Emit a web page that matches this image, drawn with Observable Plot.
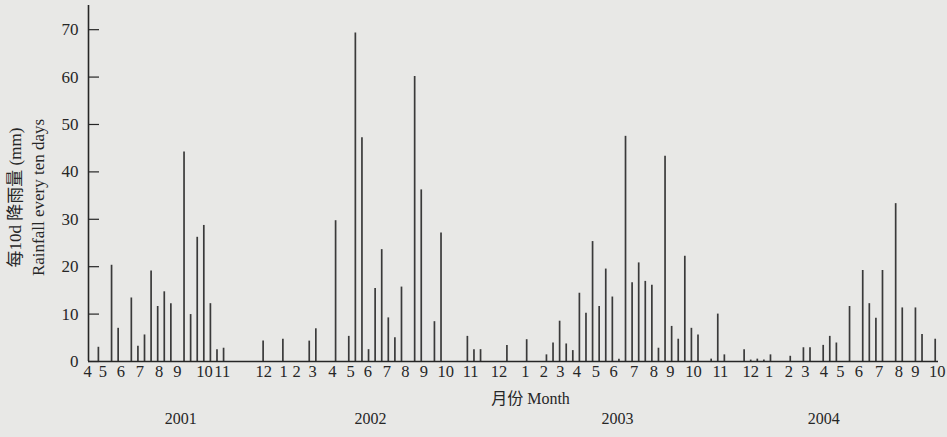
<!DOCTYPE html>
<html>
<head>
<meta charset="utf-8">
<script src="https://cdn.jsdelivr.net/npm/d3@7"></script>
<script src="https://cdn.jsdelivr.net/npm/@observablehq/plot@0.6"></script>
<style>
  html, body { margin: 0; padding: 0; background: #e8e8e6; }
  #chart svg { display: block; background: #e8e8e6; }
</style>
</head>
<body>
<div id="chart"></div>
<script>
// Dekad index (0 = first ten days of April 2001) and rainfall per ten days (mm)
const dekad = [1,3,4,6,7,8,9,10,11,12,14,15,16,17,18,19,20,26,29,33,34,37,39,40,41,42,43,44,45,46,47,49,50,52,53,57,58,59,63,66,69,70,71,72,73,74,75,76,77,78,79,80,81,82,83,84,85,86,87,88,89,90,91,92,94,95,96,99,100,101,102,103,106,108,109,111,112,113,115,117,118,119,120,122,123,125,126,128];
const rain = [3.0,20.3,7.0,13.4,3.2,5.6,19.1,11.6,14.7,12.2,44.2,9.9,26.2,28.7,12.2,2.5,2.8,4.3,4.7,4.3,6.9,29.7,5.3,69.3,47.2,2.5,15.4,23.6,9.2,5.0,15.7,60.1,36.2,8.4,27.1,5.3,2.5,2.5,3.4,4.6,1.4,3.9,8.5,3.7,2.3,14.4,10.2,25.3,11.6,19.5,13.6,0.5,47.5,16.6,20.8,16.9,16.1,2.8,43.3,7.4,4.7,22.2,7.0,5.6,0.5,10.0,1.4,2.5,0.3,0.5,0.3,1.4,1.1,2.9,2.9,3.4,5.3,3.9,11.6,19.2,12.2,9.1,19.2,33.3,11.3,11.3,5.7,4.7];

// Month tick labels and where they sit on the dekad axis
const monthLabels = ["4","5","6","7","8","9","10","11","12","1","2","3","4","5","6","7","8","9","10","11","12","1","2","3","4","5","6","7","8","9","10","11","12","1","2","3","4","5","6","7","8","9","10"];
const monthTicks = [-0.65,1.7,4.4,7.3,10.2,13.0,17.1,19.8,26.1,29.1,31.1,33.5,36.5,39.3,41.9,44.8,47.6,50.4,53.7,57.5,61.8,65.8,68.6,71.1,73.6,76.5,79.2,82.3,85.3,87.8,91.3,95.4,100.0,102.8,105.8,108.3,111.1,113.6,116.4,119.5,122.5,125.0,128.3];

const years = ["2001","2002","2003","2004"];
const yearTicks = [13.5,42.3,79.8,111.1];

const yTicks = [0,10,20,30,40,50,60,70];

const bars = dekad.map((d, i) => ({dekad: d, rain: rain[i]}));
const months = monthTicks.map((p, i) => ({pos: p, label: monthLabels[i]}));
const yearRows = yearTicks.map((p, i) => ({pos: p, label: years[i]}));

const ink = "#262626";
const serif = "'Liberation Serif', 'Noto Sans CJK SC', serif";

const chart = Plot.plot({
  width: 947,
  height: 437,
  marginLeft: 88,
  marginRight: 9,
  marginTop: 5,
  marginBottom: 76,
  style: {background: "#e8e8e6", fontFamily: serif, color: ink},
  x: {domain: [-0.5, 128.5], axis: null},
  y: {domain: [0, 75.1], axis: null},
  marks: [
    // y-axis ticks (inward) and labels
    Plot.axisY({ticks: yTicks, tickSize: -11, tickFormat: () => "", stroke: ink, strokeWidth: 1.2, label: null}),
    Plot.axisY({ticks: yTicks, tickSize: 0, tickPadding: 10, fontSize: 17, fill: ink, label: null}),
    // bars
    Plot.ruleX(bars, {x: "dekad", y1: 0, y2: "rain", stroke: "#3a3a3a", strokeWidth: 1.7}),
    // axis lines
    Plot.ruleX([-0.5], {stroke: ink, strokeWidth: 1.6}),
    Plot.ruleY([0], {stroke: ink, strokeWidth: 1.6}),
    // month labels
    Plot.text(months, {x: "pos", text: "label", frameAnchor: "bottom", dy: 15, fontSize: 16.5, fill: ink}),
    // x title
    Plot.text(["月份 Month"], {frameAnchor: "bottom", dx: 17, dy: 42, fontSize: 16, fill: ink}),
    // years
    Plot.text(yearRows, {x: "pos", text: "label", frameAnchor: "bottom", dy: 62, fontSize: 16, fill: ink}),
    // y title (two lines)
    Plot.text(["每10d 降雨量 (mm)"], {frameAnchor: "left", textAnchor: "middle", rotate: -90, dx: -73, dy: 14, fontSize: 17, fill: ink}),
    Plot.text(["Rainfall every ten days"], {frameAnchor: "left", textAnchor: "middle", rotate: -90, dx: -50, dy: 14, fontSize: 17, fill: ink})
  ]
});
document.getElementById("chart").appendChild(chart);
</script>
</body>
</html>
